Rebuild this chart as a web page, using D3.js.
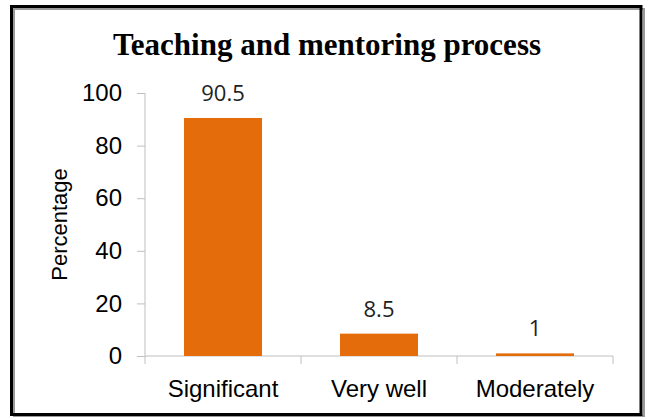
<!DOCTYPE html>
<html>
<head>
<meta charset="utf-8">
<script src="https://cdn.jsdelivr.net/npm/d3@7"></script>
<style>
  body { margin: 0; background: #fff; }
  .axis path, .axis line { stroke: #bfbfbf; }
  .axis text { font-family: "Liberation Sans", Arial, sans-serif; font-size: 24px; fill: #000; }
</style>
</head>
<body>
<script>
// chart data
var categories = ["Significant", "Very well", "Moderately"];
var values = [90.5, 8.5, 1];
var yTicks = [0, 20, 40, 60, 80, 100];

var width = 650,
    height = 418;

// plot area
var plotLeft = 145, plotRight = 613, plotTop = 93, plotBottom = 356;

var svg = d3.select("body")
    .append("svg")
    .attr("width", width)
    .attr("height", height);

svg.append("rect")
    .attr("width", width)
    .attr("height", height)
    .attr("fill", "#fff");

// outer frame with a light shadow
svg.append("rect")
    .attr("x", 14).attr("y", 9)
    .attr("width", 630).attr("height", 407)
    .attr("fill", "none")
    .attr("stroke", "#9a9a9a")
    .attr("stroke-width", 2);

svg.append("rect")
    .attr("x", 11.5).attr("y", 6.5)
    .attr("width", 629.5).attr("height", 408)
    .attr("fill", "none")
    .attr("stroke", "#000")
    .attr("stroke-width", 3);

// scales
var x = d3.scaleBand()
    .domain(categories)
    .range([plotLeft, plotRight])
    .paddingInner(0.5)
    .paddingOuter(0.25);

var y = d3.scaleLinear()
    .domain([0, 100])
    .range([plotBottom, plotTop]);

// axes
var yAxis = d3.axisLeft(y)
    .tickValues(yTicks)
    .tickSize(8)
    .tickPadding(15);

var gy = svg.append("g")
    .attr("class", "axis")
    .attr("transform", "translate(" + plotLeft + ",0)")
    .call(yAxis);
gy.select(".domain").attr("d", "M0," + plotTop + "V" + plotBottom);

var xAxis = d3.axisBottom(x).tickSize(0).tickPadding(24);

var gx = svg.append("g")
    .attr("class", "axis")
    .attr("transform", "translate(0," + plotBottom + ")")
    .call(xAxis);
gx.select(".domain").attr("d", "M" + plotLeft + ",0H" + plotRight);

// category dividers below the x axis
var edges = [plotLeft].concat(categories.map(function(c) { return x(c) + x.bandwidth() + x.step() * 0.25; }));
gx.selectAll(".divider")
    .data(edges)
    .enter().append("line")
    .attr("class", "divider")
    .attr("x1", function(d) { return d; })
    .attr("x2", function(d) { return d; })
    .attr("y1", 0)
    .attr("y2", 8)
    .attr("stroke", "#bfbfbf");

// bars
svg.append("g")
    .selectAll("rect")
    .data(values)
    .enter().append("rect")
    .attr("x", function(d, i) { return x(categories[i]); })
    .attr("y", function(d) { return y(d); })
    .attr("width", x.bandwidth())
    .attr("height", function(d) { return plotBottom - y(d); })
    .attr("fill", "#e46c0a");

// value labels
svg.append("g")
    .selectAll("text")
    .data(values)
    .enter().append("text")
    .attr("x", function(d, i) { return x(categories[i]) + x.bandwidth() / 2; })
    .attr("y", function(d) { return y(d) - 17; })
    .attr("text-anchor", "middle")
    .style("font-family", "'Open Sans', sans-serif")
    .style("font-size", "22px")
    .attr("fill", "#222")
    .text(function(d) { return d; });

// y axis title
svg.append("text")
    .attr("transform", "translate(67," + (plotTop + plotBottom) / 2 + ") rotate(-90)")
    .attr("text-anchor", "middle")
    .style("font-family", "'Liberation Sans', Arial, sans-serif")
    .style("font-size", "22px")
    .text("Percentage");

// chart title
svg.append("text")
    .attr("x", 327)
    .attr("y", 55)
    .attr("text-anchor", "middle")
    .style("font-family", "'Liberation Serif', 'Times New Roman', serif")
    .style("font-weight", "bold")
    .style("font-size", "31px")
    .text("Teaching and mentoring process");
</script>
</body>
</html>
